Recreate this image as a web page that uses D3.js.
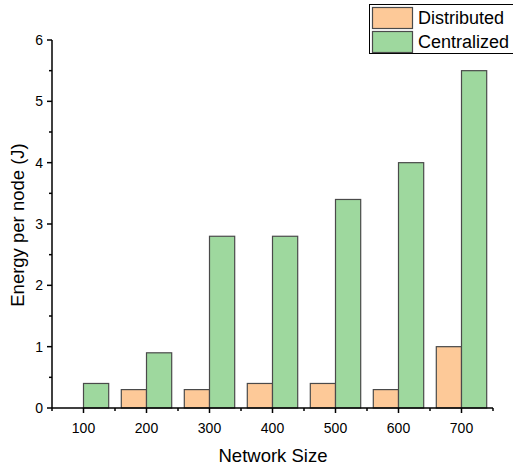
<!DOCTYPE html>
<html><head><meta charset="utf-8">
<script src="https://cdn.jsdelivr.net/npm/d3@7"></script>
<style>body{margin:0;background:#fff}svg{display:block}text{font-family:"Liberation Sans",Arial,sans-serif;fill:#000}</style>
</head><body>
<script>
const categories = [100, 200, 300, 400, 500, 600, 700];
const distributed = [0, 0.3, 0.3, 0.4, 0.4, 0.3, 1.0];
const centralized = [0.4, 0.9, 2.8, 2.8, 3.4, 4.0, 5.5];
const yTicks = [0, 1, 2, 3, 4, 5, 6];
const seriesNames = ["Distributed", "Centralized"];
const colors = ["#FDC998", "#9ED89E"];

const W = 513, H = 468;
const svg = d3.select("body").append("svg").attr("width", W).attr("height", H);
const x = d3.scaleLinear().domain([50, 750]).range([52, 493]);
const y = d3.scaleLinear().domain([0, 6]).range([408, 40]);
const bw = 40; // data units per bar

const series = [distributed, centralized];
series.forEach((vals, si) => {
  svg.append("g").selectAll("rect").data(categories.map((c, i) => ({c, v: vals[i]})).filter(d => d.v > 0))
    .join("rect")
    .attr("x", d => x(d.c + (si === 0 ? -bw : 0)))
    .attr("width", d => x(d.c + bw) - x(d.c))
    .attr("y", d => y(d.v))
    .attr("height", d => y(0) - y(d.v))
    .attr("fill", colors[si])
    .attr("stroke", "#4a4a4a")
    .attr("stroke-width", 1.2);
});

// X axis
const gx = svg.append("g").attr("transform", `translate(0,${y(0)})`);
gx.append("line").attr("x1", x(50)).attr("x2", x(750)).attr("stroke", "#000").attr("stroke-width", 1.5);
const xMinor = d3.range(50, 751, 100);
gx.selectAll(".mn").data(xMinor).join("line").attr("x1", d => x(d)).attr("x2", d => x(d)).attr("y1", 0).attr("y2", 3).attr("stroke", "#000").attr("stroke-width", 1.5);
gx.selectAll(".mj").data(categories).join("line").attr("x1", d => x(d)).attr("x2", d => x(d)).attr("y1", 0).attr("y2", 5).attr("stroke", "#000").attr("stroke-width", 1.5);
gx.selectAll("text").data(categories).join("text").attr("x", d => x(d)).attr("y", 25).attr("text-anchor", "middle").attr("font-size", 14).text(d => d);

// Y axis
const gy = svg.append("g").attr("transform", `translate(${x(50)},0)`);
gy.append("line").attr("y1", y(0)).attr("y2", y(6)).attr("stroke", "#000").attr("stroke-width", 1.5);
const yMinor = d3.range(0.5, 6, 1);
gy.selectAll(".mn").data(yMinor).join("line").attr("y1", d => y(d)).attr("y2", d => y(d)).attr("x1", 0).attr("x2", -3).attr("stroke", "#000").attr("stroke-width", 1.5);
gy.selectAll(".mj").data(yTicks).join("line").attr("y1", d => y(d)).attr("y2", d => y(d)).attr("x1", 0).attr("x2", -5).attr("stroke", "#000").attr("stroke-width", 1.5);
gy.selectAll("text").data(yTicks).join("text").attr("x", -9).attr("y", d => y(d) + 5).attr("text-anchor", "end").attr("font-size", 14).text(d => d);

// Axis titles
svg.append("text").attr("x", 273).attr("y", 462).attr("text-anchor", "middle").attr("font-size", 18.5).text("Network Size");
svg.append("text").attr("transform", `translate(24,225) rotate(-90)`).attr("text-anchor", "middle").attr("font-size", 18.5).text("Energy per node (J)");

// Legend
const lg = svg.append("g");
lg.append("rect").attr("x", 369.5).attr("y", 4.5).attr("width", 160).attr("height", 49).attr("fill", "#fff").attr("stroke", "#000").attr("stroke-width", 1);
seriesNames.forEach((n, i) => {
  lg.append("rect").attr("x", 372.5).attr("y", 7.5 + i * 24).attr("width", 40).attr("height", 21).attr("fill", colors[i]).attr("stroke", "#4a4a4a").attr("stroke-width", 1.2);
  lg.append("text").attr("x", 418).attr("y", 24 + i * 24).attr("font-size", 18).text(n);
});
</script>
</body></html>
